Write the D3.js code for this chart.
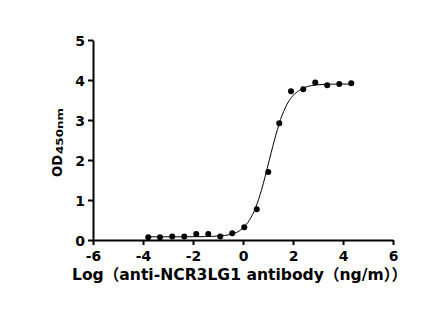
<!DOCTYPE html>
<html lang="en">
<head>
<meta charset="UTF-8">
<title>NCR3LG1 ELISA</title>
<script src="https://cdn.jsdelivr.net/npm/d3@7/dist/d3.min.js"></script>
<style>
  body { margin: 0; background: #fff; }
  text { font-family: "DejaVu Sans", "Noto Sans CJK SC", sans-serif; font-weight: bold; fill: #000; }
</style>
</head>
<body>
<svg id="mainsvg" width="447" height="314"></svg>
<script>
// measured points (log conc, OD450)
const logConc = [-3.79, -3.32, -2.83, -2.35, -1.87, -1.39, -0.91, -0.43, 0.05, 0.55, 1.01, 1.45, 1.92, 2.41, 2.89, 3.37, 3.85, 4.33];
const odValues = [0.07, 0.07, 0.09, 0.09, 0.15, 0.15, 0.09, 0.17, 0.32, 0.77, 1.70, 2.92, 3.72, 3.77, 3.94, 3.87, 3.90, 3.92];

// fitted curve
const curveX = [-3.79, -2.5, -1.5, -1.0, -0.5, 0, 0.25, 0.5, 0.75, 1.0, 1.25, 1.5, 1.75, 2.0, 2.25, 2.5, 3.0, 3.5, 4.33];
const curveY = [0.08, 0.08, 0.085, 0.10, 0.14, 0.30, 0.49, 0.80, 1.27, 1.87, 2.48, 3.01, 3.38, 3.61, 3.74, 3.82, 3.88, 3.895, 3.90];

const xTicks = [-6, -4, -2, 0, 2, 4, 6];
const yTicks = [0, 1, 2, 3, 4, 5];

const svg = d3.select('#mainsvg');
const margin = {top: 40, left: 93};
const innerWidth = 300, innerHeight = 200;

const g = svg.append('g').attr('transform', `translate(${margin.left}, ${margin.top})`);

const xScale = d3.scaleLinear().domain([-6, 6]).range([0, innerWidth]);
const yScale = d3.scaleLinear().domain([0, 5]).range([innerHeight, 0]);

// x axis
const xAxis = g.append('g')
    .attr('transform', `translate(0, ${innerHeight})`)
    .call(d3.axisBottom(xScale).tickValues(xTicks).tickFormat(d => String(d))
        .tickSize(5).tickSizeOuter(0).tickPadding(6));
// y axis
const yAxis = g.append('g')
    .call(d3.axisLeft(yScale).tickValues(yTicks).tickFormat(d => String(d))
        .tickSize(5).tickSizeOuter(0).tickPadding(3));

[xAxis, yAxis].forEach(a => {
    a.selectAll('path, line').attr('stroke', '#000').attr('stroke-width', 2);
    a.selectAll('text').attr('font-size', 14).attr('font-weight', 'bold').attr('fill', '#000');
    a.attr('font-family', null).attr('font-size', null);
});
yAxis.selectAll('text').attr('dy', '0.36em');

// fit line
const line = d3.line()
    .x((d, i) => xScale(curveX[i]))
    .y(d => yScale(d))
    .curve(d3.curveMonotoneX);
g.append('path')
    .datum(curveY)
    .attr('d', line)
    .attr('fill', 'none')
    .attr('stroke', '#000')
    .attr('stroke-width', 1);

// data points
g.selectAll('circle')
    .data(odValues)
    .join('circle')
    .attr('cx', (d, i) => xScale(logConc[i]))
    .attr('cy', d => yScale(d))
    .attr('r', 3)
    .attr('fill', '#000');

// y label
const yLabel = svg.append('text')
    .attr('transform', 'translate(62, 177) rotate(-90)')
    .attr('font-size', 14);
yLabel.append('tspan').attr('textLength', 22).attr('lengthAdjust', 'spacingAndGlyphs').text('OD');
yLabel.append('tspan').attr('font-size', 9).attr('dy', 1).attr('dx', 1)
    .attr('textLength', 46).attr('lengthAdjust', 'spacingAndGlyphs').text('450nm');

// x label
svg.append('text')
    .attr('x', 239.5)
    .attr('y', 280)
    .attr('text-anchor', 'middle')
    .attr('font-size', 15.5)
    .attr('textLength', 335)
    .attr('lengthAdjust', 'spacingAndGlyphs')
    .text('Log（anti-NCR3LG1 antibody（ng/m））');
</script>
</body>
</html>
